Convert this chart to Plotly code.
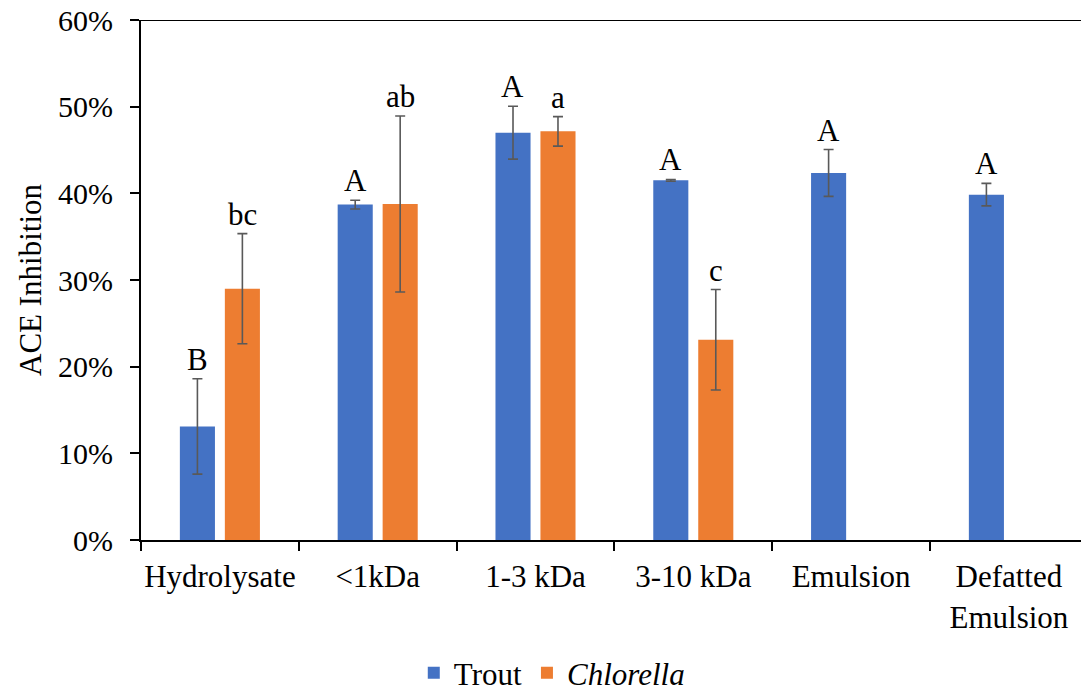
import plotly.graph_objects as go

categories = ["Hydrolysate", "<1kDa", "1-3 kDa", "3-10 kDa", "Emulsion", "Defatted<br>Emulsion"]
trout = [0.131, 0.387, 0.470, 0.415, 0.4235, 0.3985]
trout_err = [0.055, 0.005, 0.0305, 0.001, 0.027, 0.013]
chlorella = [0.290, 0.3877, 0.4715, 0.231, None, None]
chlorella_err = [0.0635, 0.1015, 0.017, 0.058, None, None]
trout_letters = ["B", "A", "A", "A", "A", "A"]
chlorella_letters = ["bc", "ab", "a", "c", None, None]

FONT = "Liberation Serif"
BLUE = "#4472C4"
ORANGE = "#ED7D31"
ERRC = "#595959"
FS = 31

fig = go.Figure()
fig.add_trace(go.Bar(
    x=categories, y=trout, name="Trout", marker=dict(color=BLUE, line=dict(width=0)),
    error_y=dict(type="data", array=trout_err, visible=True, color=ERRC, thickness=1.6, width=5),
))
fig.add_trace(go.Bar(
    x=categories, y=chlorella, name="<i>Chlorella</i>", marker=dict(color=ORANGE, line=dict(width=0)),
    error_y=dict(type="data", array=chlorella_err, visible=True, color=ERRC, thickness=1.6, width=5),
))

for i, c in enumerate(categories):
    if trout_letters[i]:
        fig.add_annotation(x=c, y=trout[i] + trout_err[i], xref="x", yref="y", text=trout_letters[i],
                           showarrow=False, xshift=-22.5, yanchor="bottom", yshift=0,
                           font=dict(family=FONT, size=FS, color="black"))
    if chlorella_letters[i]:
        fig.add_annotation(x=c, y=chlorella[i] + chlorella_err[i], xref="x", yref="y", text=chlorella_letters[i],
                           showarrow=False, xshift=22.5, yanchor="bottom", yshift=0,
                           font=dict(family=FONT, size=FS, color="black"))

fig.add_shape(type="line", xref="paper", yref="y", x0=0, x1=1, y0=0.6, y1=0.6,
              line=dict(color="black", width=2))

fig.update_layout(
    width=1081, height=692,
    margin=dict(l=141, r=0, t=20, b=152, autoexpand=False),
    paper_bgcolor="white", plot_bgcolor="white",
    barmode="group", bargap=0.43, bargroupgap=0.22,
    font=dict(family=FONT, size=FS, color="black"),
    showlegend=True,
    legend=dict(orientation="h", x=0.437, xanchor="center", y=-0.256, yanchor="middle",
                font=dict(family=FONT, size=FS, color="black"), itemwidth=30),
    xaxis=dict(
        type="category", range=[-0.5, 5.457], automargin=False, tickangle=0,
        showline=True, linecolor="black", linewidth=2,
        ticks="outside", tickson="boundaries", ticklen=9, tickwidth=2, tickcolor="black",
        showgrid=False, ticklabelstandoff=8,
        tickfont=dict(family=FONT, size=FS, color="black"),
    ),
    yaxis=dict(
        range=[0, 0.6], dtick=0.1, tickformat=".0%", automargin=False,
        showline=True, linecolor="black", linewidth=2,
        ticks="outside", ticklen=9, tickwidth=2, tickcolor="black",
        showgrid=False, zeroline=False, ticklabelstandoff=11,
        tickfont=dict(family=FONT, size=30, color="black"),
        title=dict(text="ACE Inhibition", standoff=7, font=dict(family=FONT, size=FS, color="black")),
    ),
)

fig.write_html("out.html", config={"displayModeBar": False},
               post_script="document.body.style.margin='0px';document.body.style.padding='0px';")
